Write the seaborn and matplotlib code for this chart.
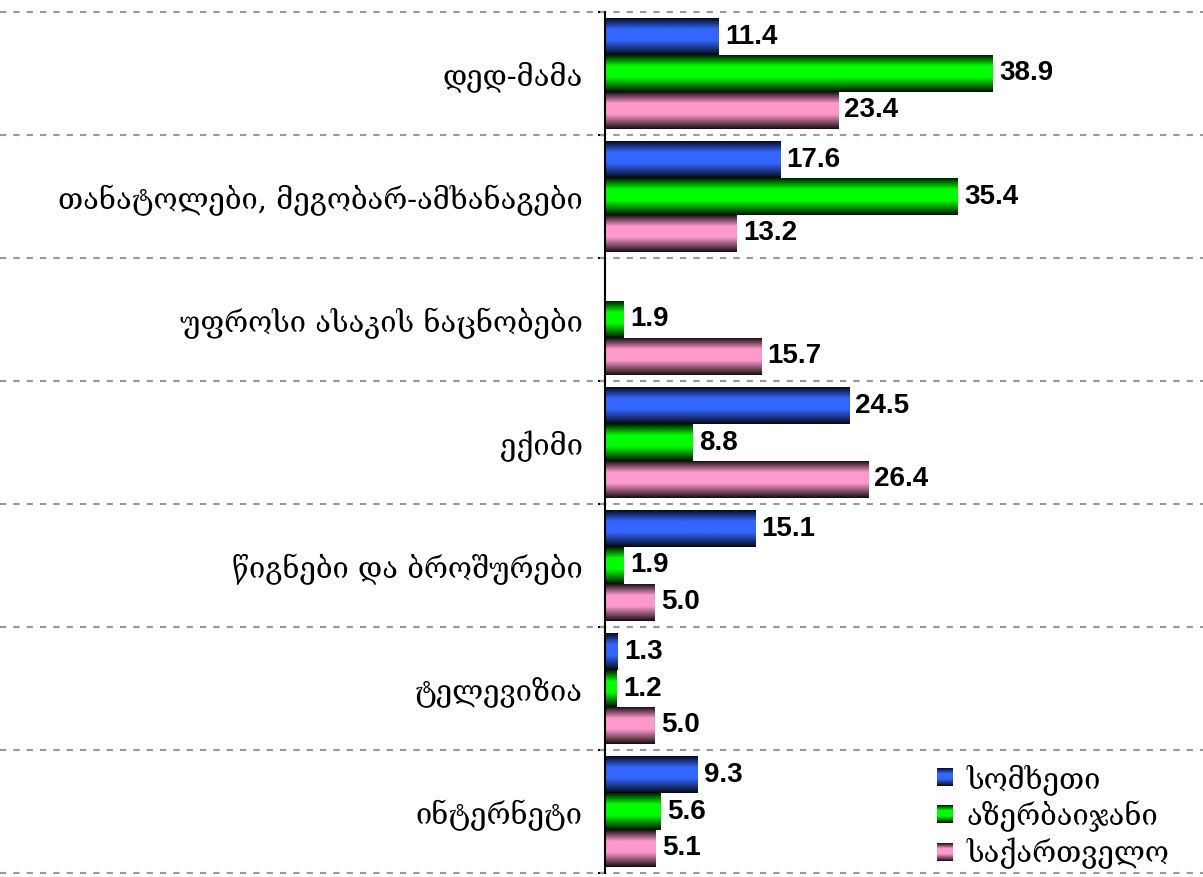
import numpy as np
import pandas as pd
import matplotlib
matplotlib.use("Agg")
import matplotlib.pyplot as plt
import seaborn as sns
from matplotlib.legend_handler import HandlerBase
from matplotlib.image import BboxImage
from matplotlib.transforms import Bbox, TransformedBbox
from matplotlib.patches import Patch
from matplotlib.colors import to_rgb

categories = ["დედ-მამა", "თანატოლები, მეგობარ-ამხანაგები", "უფროსი ასაკის ნაცნობები",
              "ექიმი", "წიგნები და ბროშურები", "ტელევიზია", "ინტერნეტი"]
series = ["სომხეთი", "აზერბაიჯანი", "საქართველო"]
armenia = [11.4, 17.6, np.nan, 24.5, 15.1, 1.3, 9.3]
azerbaijan = [38.9, 35.4, 1.9, 8.8, 1.9, 1.2, 5.6]
georgia = [23.4, 13.2, 15.7, 26.4, 5.0, 5.0, 5.1]
colors = ["#3366FF", "#00FF00", "#FF99CC"]

rows = []
for s, vals in zip(series, [armenia, azerbaijan, georgia]):
    for c, v in zip(categories, vals):
        rows.append({"cat": c, "country": s, "value": v})
df = pd.DataFrame(rows).dropna()

sns.set_style("white")
plt.rcParams['font.family'] = ['DejaVu Serif', 'DejaVu Sans']
plt.rcParams['text.color'] = 'black'
plt.rcParams['ytick.color'] = 'black'

W, H = 1203, 877
fig = plt.figure(figsize=(W / 100, H / 100), dpi=100)
left_px, top_px, bot_px = 605, 12, 873
ax = fig.add_axes([left_px / W, (H - bot_px) / H, (W - left_px) / W, (bot_px - top_px) / H])

sns.barplot(data=df, y="cat", x="value", hue="country", order=categories, hue_order=series,
            palette=colors, width=0.9, orient="h", saturation=1, errorbar=None,
            legend=False, ax=ax, linewidth=0, zorder=3)

# vertical shading profile (top -> bottom)
tk = [0.0, 0.08, 0.3, 0.6, 0.85, 1.0]
fk = [0.12, 0.35, 1.0, 1.0, 0.45, 0.08]
tt = np.linspace(0, 1, 64)
prof = np.interp(tt, tk, fk)


def grad_img(color):
    rgb = np.array(to_rgb(color))
    return (prof[:, None, None] * rgb[None, None, :]).clip(0, 1)


for container, col in zip(ax.containers, colors):
    img = grad_img(col)
    for p in container.patches:
        x0, y0 = p.get_x(), p.get_y()
        w, h = p.get_width(), p.get_height()
        if not np.isfinite(w) or w == 0:
            continue
        im = ax.imshow(img, extent=[x0, x0 + w, y0 + h, y0], origin="upper",
                       aspect="auto", interpolation="bilinear", zorder=4)
        im.set_clip_path(p)
    ax.bar_label(container, labels=[f"{v:.1f}" for v in container.datavalues], padding=4.5,
                 fontsize=20, fontweight="bold", family="Liberation Sans", color="black", zorder=6)

ax.set_xlim(0, 60)
ax.set_ylim(len(categories) - 0.5, -0.5)
ax.set_xlabel("")
ax.set_ylabel("")
ax.set_xticks([])
ax.set_yticks(range(len(categories)))
ax.set_yticklabels(categories, fontsize=21, color="black")
ax.tick_params(axis="y", which="major", length=0, pad=16)
ax.set_yticks(np.arange(-0.5, len(categories), 1.0), minor=True)
ax.tick_params(axis="y", which="minor", length=5, width=1.5, color="black", left=True)
for s in ["top", "right", "bottom"]:
    ax.spines[s].set_visible(False)
ax.spines["left"].set_linewidth(1.5)
ax.spines["left"].set_color("black")
ax.spines["left"].set_zorder(7)

xmin_ax = -left_px / (W - left_px)
for yb in np.arange(-0.5, len(categories), 1.0):
    ax.axhline(yb, xmin=xmin_ax, xmax=1, color="#999999", lw=1.5,
               linestyle=(0, (3.0, 3.4)), clip_on=False, zorder=1)


class GradHandler(HandlerBase):
    def create_artists(self, legend, orig_handle, xdescent, ydescent, width, height, fontsize, trans):
        bb = Bbox.from_bounds(-xdescent, -ydescent, width, height)
        tbb = TransformedBbox(bb, trans)
        im = BboxImage(tbb, interpolation="bilinear")
        im.set_data(grad_img(orig_handle.get_facecolor()))
        return [im]


handles = [Patch(facecolor=c) for c in colors]
fig.legend(handles, series, handler_map={Patch: GradHandler()}, loc="upper left",
           bbox_to_anchor=(937 / W, 1 - 764 / H), frameon=False, fontsize=21,
           handlelength=0.52, handleheight=0.52, handletextpad=0.5, labelspacing=0.2,
           borderpad=0, borderaxespad=0)

fig.savefig("out.png", dpi=100)
